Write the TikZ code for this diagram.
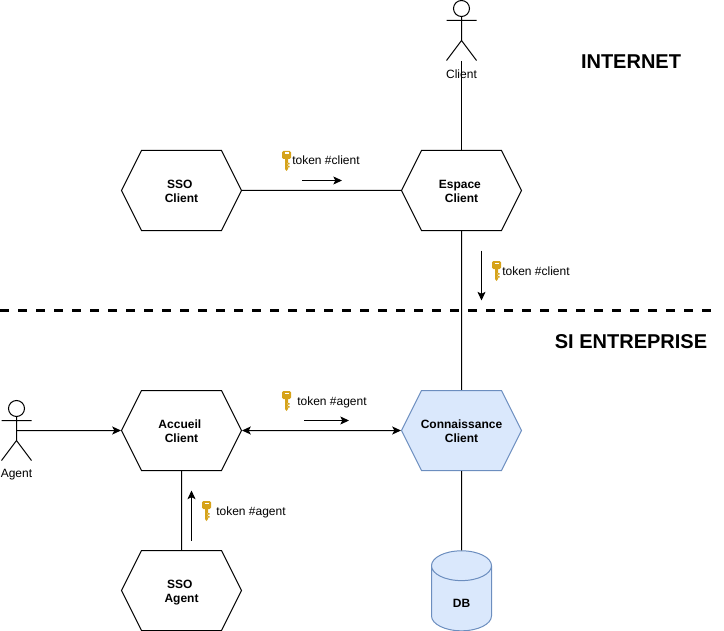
\documentclass[tikz,border=0pt]{standalone}
\usepackage{fontspec}
\setmainfont{Liberation Sans}
\usepackage{tikz}
\usetikzlibrary{arrows.meta,positioning,shapes.geometric,shapes.symbols}

\definecolor{keygold}{HTML}{D6A31A}
\definecolor{dbfill}{HTML}{DAE8FC}
\definecolor{dbline}{HTML}{6C8EBF}

\tikzset{
  hexa/.style = {shape = signal, signal to = east and west, signal pointer angle = 126.87,
    draw, fill = white, line width = 0.75pt, inner sep = 0pt, minimum width = 90pt, minimum height = 60pt,
    text height = 20pt, text depth = 2pt,
    font = \bfseries\fontsize{9}{10.5}\selectfont, align = center},
  hexablue/.style = {hexa, fill = dbfill, draw = dbline},
  dbnode/.style = {shape = cylinder, shape border rotate = 90, aspect = 1.72, draw = dbline, fill = dbfill,
    line width = 0.75pt, minimum width = 45pt, minimum height = 60pt, inner sep = 0pt,
    font = \bfseries\fontsize{9}{10.5}\selectfont},
  actorbox/.style = {minimum width = 22.5pt, minimum height = 45pt, inner sep = 0pt},
  tokenlabel/.style = {font = \fontsize{9}{10.5}\selectfont, inner sep = 0pt},
  zone/.style = {font = \bfseries\fontsize{15}{18}\selectfont, inner sep = 0pt},
  link/.style = {line width = 0.75pt},
  flow/.style = {link, -{Stealth[length = 6.5pt, width = 6pt, inset = 1.5pt]}},
  both/.style = {link, {Stealth[length = 6.5pt, width = 6pt, inset = 1.5pt]}-{Stealth[length = 6.5pt, width = 6pt, inset = 1.5pt]}},
  stickman/.pic = {
    \draw[line width = 0.75pt, fill = white] (0,-22) circle (8);
    \draw[line width = 0.75pt] (0,-14) -- (0,10) (-15,-10) -- (15,-10) (-15,30) -- (0,10) -- (15,30);
  },
  goldkey/.pic = {
    \fill[keygold, rounded corners = 1pt] (-4.5,-7) rectangle (4.5,1);
    \fill[keygold] (-1.5,0) -- (1.5,0) -- (1.5,11) -- (0,13) -- (-1.5,11) -- cycle (1,5) rectangle (3,6.5) (1,8) rectangle (3,9.5);
    \fill[white] (-2,-5.5) rectangle (2,-4.4);
  }
}

\begin{document}
\begin{tikzpicture}[x = 0.75pt, y = -0.75pt]
   \useasboundingbox (0,0) rectangle (724,631);
   % zones
   \coordinate (sep_l) at (0,310.5);
   \coordinate (sep_r) at (714,310.5);
   \node[zone] (internet) at (631,62) {INTERNET};
   \node[zone] (entreprise) at (631,342) {SI ENTREPRISE};
   % services
   \node[hexa] (sso_client) at (181.5,190.5) {SSO\kern2.5pt\\Client};
   \node[hexa] (espace) at (461.5,190.5) {Espace\kern2.5pt\\Client};
   \node[hexa] (accueil) at (181.5,430.5) {Accueil\kern2.5pt\\Client};
   \node[hexablue] (connaissance) at (461.5,430.5) {\makebox[40pt]{Connaissance}\\Client};
   \node[hexa] (sso_agent) at (181.5,590.5) {SSO\kern2.5pt\\Agent};
   \node[dbnode] (db) at (461.5,598.5) {\raisebox{-7pt}[0pt][0pt]{DB}};
   % actors
   \node[actorbox] (client) at (461.5,30.5) {};
   \node[actorbox] (agent) at (16.5,430.5) {};
   \pic at (client) {stickman};
   \pic at (agent) {stickman};
   \node[tokenlabel] (client_txt) at (461.5,74.5) {Client};
   \node[tokenlabel] (agent_txt) at (16.5,474.5) {Agent};
   % connectors
   \draw[link] (client.south) -- (espace.north);
   \draw[link] (sso_client) -- (espace);
   \draw[link] (espace) -- (connaissance);
   \draw[link] (connaissance) -- (db);
   \draw[link] (accueil) -- (sso_agent);
   \draw[flow] (agent.center) -- (accueil);
   \draw[both] (accueil) -- (connaissance);
   \draw[line width = 2.25pt, dash pattern = on 7pt off 6.5pt] (sep_l) -- (sep_r);
   % tokens
   \node[tokenlabel, anchor = base west] (tok_1) at (292,165) {token \#client};
   \node[tokenlabel, anchor = base west] (tok_2) at (502,275) {token \#client};
   \node[tokenlabel, anchor = base west] (tok_3) at (297,405) {token \#agent};
   \node[tokenlabel, anchor = base west] (tok_4) at (216,515) {token \#agent};
   \pic at (286.5,158) {goldkey};
   \pic at (496.5,268) {goldkey};
   \pic at (286.5,398) {goldkey};
   \pic at (206.5,508) {goldkey};
   % direction of the tokens
   \coordinate (a1) at (302,180.5);
   \coordinate (a2) at (342,180.5);
   \coordinate (b1) at (481.5,250.5);
   \coordinate (b2) at (481.5,300.5);
   \coordinate (c1) at (304,420.5);
   \coordinate (c2) at (349,420.5);
   \coordinate (d1) at (191.5,540.5);
   \coordinate (d2) at (191.5,490.5);
   \draw[flow] (a1) -- (a2);
   \draw[flow] (b1) -- (b2);
   \draw[flow] (c1) -- (c2);
   \draw[flow] (d1) -- (d2);
\end{tikzpicture}
\end{document}
